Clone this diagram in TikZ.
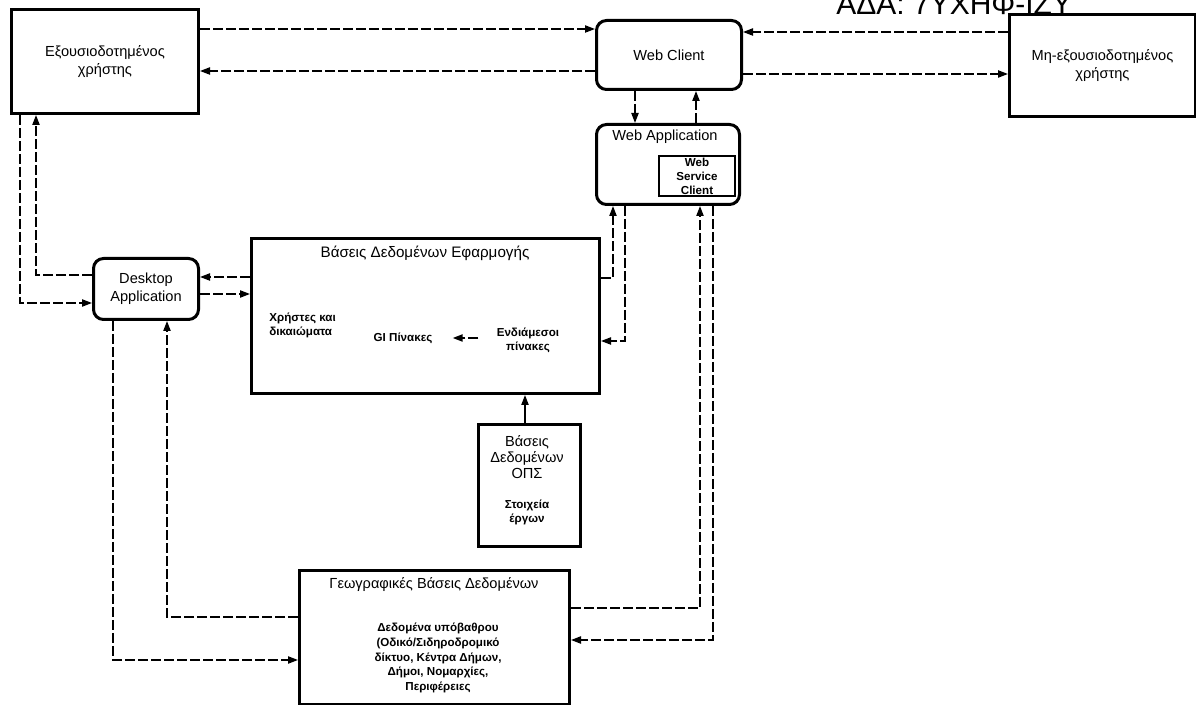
\documentclass[tikz,border=0pt]{standalone}
\usepackage{fontspec}
\setmainfont{Liberation Sans}
\usetikzlibrary{arrows.meta,calc}
\begin{document}
\begin{tikzpicture}[x=0.5pt,y=-0.5pt,
  box/.style={draw, line width=1.5pt, inner sep=0pt, align=center, anchor=north west},
  rbox/.style={box, rounded corners=5pt},
  conn/.style={line width=0.8pt, dash pattern=on 5pt off 1.5pt, -{Triangle[length=5pt,width=3.6pt]}},
  big/.style={font=\fontsize{7.3}{9}\selectfont},
  small/.style={font=\fontsize{5.8}{7}\selectfont\bfseries, align=center, inner sep=0pt}]
\useasboundingbox (0,0) rectangle (1196,705);
\clip (0,0) rectangle (1196,705);
% header
\node[anchor=base west, inner sep=0pt, font=\fontsize{15}{16}\selectfont] (ada) at (836,15) {ΑΔΑ: 7ΥΧΗΦ-ΙΖΥ};
% boxes
\node[box, big, minimum width=93.5pt, minimum height=52pt] (auth) at (10,8) {Εξουσιοδοτημένος\\χρήστης};
\node[rbox, big, minimum width=72.5pt, minimum height=34.5pt] (webc) at (595,19) {Web Client};
\node[box, big, minimum width=93pt, minimum height=51pt] (unauth) at (1008,13) {Μη-εξουσιοδοτημένος\\χρήστης};
\node[rbox, minimum width=71.5pt, minimum height=40pt] (webapp) at (595,123) {};
\node[big, inner sep=0pt] (webapptitle) at (665,137) {Web Application};
\node[box, line width=0.8pt, minimum width=38pt, minimum height=20pt] (wsc) at (658,155) {};
\node[small] (wsctext) at (697,176) {Web\\Service\\Client};
\node[rbox, big, minimum width=52.5pt, minimum height=30.5pt] (desk) at (92,257) {Desktop\\Application};
\node[box, minimum width=174pt, minimum height=77.5pt] (appdb) at (250,237) {};
\node[big, inner sep=0pt, font=\fontsize{7.6}{9}\selectfont] (appdbtitle) at (425,253) {Βάσεις Δεδομένων Εφαρμογής};
\node[small, anchor=west, align=left] (users) at (269,325) {Χρήστες και\\δικαιώματα};
\node[small] (gi) at (403,338) {GI Πίνακες};
\node[small] (interm) at (528,340) {Ενδιάμεσοι\\πίνακες};
\node[box, minimum width=51pt, minimum height=61pt] (ops) at (477,423) {};
\node[inner sep=0pt, align=center, font=\fontsize{7.3}{8.2}\selectfont] (opstitle) at (527,457) {Βάσεις\\Δεδομένων\\ΟΠΣ};
\node[small] (opstext) at (527,512) {Στοιχεία\\έργων};
\node[box, minimum width=135pt, minimum height=67pt] (geo) at (298,569) {};
\node[inner sep=0pt, font=\fontsize{7.3}{9}\selectfont] (geotitle) at (434,585) {Γεωγραφικές Βάσεις Δεδομένων};
\node[small, font=\fontsize{5.8}{7.3}\selectfont\bfseries] (geotext) at (438,658) {Δεδομένα υπόβαθρου\\(Οδικό/Σιδηροδρομικό\\δίκτυο, Κέντρα Δήμων,\\Δήμοι, Νομαρχίες,\\Περιφέρειες};
% connectors
\draw[conn] (auth.east |- 0,29) -- (webc.west |- 0,29);
\draw[conn] (webc.west |- 0,71) -- (auth.east |- 0,71);
\draw[conn] (unauth.west |- 0,32) -- (webc.east |- 0,32);
\draw[conn] (webc.east |- 0,74) -- (unauth.west |- 0,74);
\draw[conn] (webc.south -| 635,0) -- (webapp.north -| 635,0);
\draw[conn] (webapp.north -| 696,0) -- (webc.south -| 696,0);
\draw[conn] (appdb.east |- 0,278) -| (webapp.south -| 613,0);
\draw[conn] (webapp.south -| 625,0) |- (appdb.east |- 0,341);
\draw[conn] (geo.east |- 0,608) -| (webapp.south -| 700,0);
\draw[conn] (webapp.south -| 713,0) |- (geo.east |- 0,640);
\draw[conn, solid] (ops.north -| 525,0) -- (appdb.south -| 525,0);
\draw[conn] (desk.west |- 0,275) -| (auth.south -| 36,0);
\draw[conn] (auth.south -| 20,0) |- (desk.west |- 0,303);
\draw[conn] (appdb.west |- 0,277) -- (desk.east |- 0,277);
\draw[conn] (desk.east |- 0,294) -- (appdb.west |- 0,294);
\draw[conn] (desk.south -| 113,0) |- (geo.west |- 0,660);
\draw[conn] (geo.west |- 0,617) -| (desk.south -| 167,0);
\draw[conn] ($(interm.west |- gi.east)+(-18,0)$) -- ($(gi.east)+(20,0)$);
\end{tikzpicture}
\end{document}
